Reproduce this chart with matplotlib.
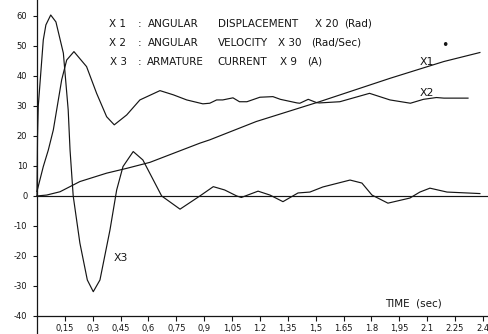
import matplotlib
matplotlib.use('Agg')
import matplotlib.pyplot as plt

# angular displacement x20 (rad)
x1T = [0.0, 0.052, 0.124, 0.231, 0.375, 0.483, 0.608, 0.734, 0.877, 0.93,
       1.18, 1.52, 1.90, 2.19, 2.384]
x1V = [0.0, 0.3, 1.4, 4.8, 7.6, 9.2, 11.2, 14.2, 17.6, 18.7,
       24.8, 31.4, 39.2, 44.8, 47.8]

# angular velocity x30 (rad/sec)
x2T = [0.0, 0.034, 0.061, 0.088, 0.133, 0.16, 0.199, 0.267, 0.321, 0.375,
       0.416, 0.483, 0.554, 0.662, 0.734, 0.806, 0.893, 0.93, 0.967, 1.0,
       1.055, 1.09, 1.13, 1.2, 1.27, 1.31, 1.40, 1.415, 1.46, 1.505,
       1.52, 1.63, 1.79, 1.90, 2.01, 2.08, 2.15, 2.19, 2.32]
x2V = [1.5, 9.8, 15.3, 22.0, 38.7, 45.3, 48.1, 43.1, 34.2, 26.4,
       23.7, 27.0, 32.0, 35.1, 33.7, 32.0, 30.7, 30.9, 32.0, 32.0,
       32.7, 31.4, 31.4, 32.9, 33.1, 32.2, 31.0, 30.9, 32.2, 31.1,
       31.0, 31.4, 34.2, 32.0, 30.9, 32.2, 32.8, 32.6, 32.6]

# armature current x9 (A)
x3T = [0.0, 0.003, 0.007, 0.034, 0.048, 0.074, 0.102, 0.142, 0.168, 0.178,
       0.195, 0.231, 0.271, 0.303, 0.339, 0.393, 0.429, 0.463, 0.518, 0.57,
       0.671, 0.77, 0.877, 0.949, 1.01, 1.075, 1.10, 1.19, 1.254, 1.324,
       1.405, 1.469, 1.539, 1.685, 1.749, 1.803, 1.889, 2.007, 2.061, 2.115,
       2.207, 2.314, 2.384]
x3V = [0.0, 20.0, 30.0, 52.0, 57.0, 60.3, 58.0, 47.6, 28.7, 15.3,
       0.0, -15.7, -28.0, -31.9, -28.0, -11.3, 2.0, 9.8, 14.8, 12.0,
       0.0, -4.4, 0.0, 3.1, 2.0, 0.0, -0.5, 1.6, 0.3, -1.9,
       1.0, 1.3, 3.0, 5.3, 4.3, 0.3, -2.4, -0.7, 1.3, 2.6,
       1.3, 1.0, 0.8]

xTicks = [0.15, 0.3, 0.45, 0.6, 0.75, 0.9, 1.05, 1.2, 1.35, 1.5, 1.65, 1.8,
          1.95, 2.1, 2.25, 2.4]
xTickLabels = ['0,15', '0,3', '0,45', '0,6', '0,75', '0,9', '1,05', '1.2',
               '1,35', '1,5', '1.65', '1.8', '1,95', '2.1', '2.25', '2.4']
yTicks = [-40, -30, -20, -10, 0, 10, 20, 30, 40, 50, 60]
yTickLabels = ['-40', '-30', '-20', '-10', '0', '10', '20', '30', '40', '50', '60']

legendLines = [
    ['X 1', ':', 'ANGULAR', 'DISPLACEMENT', 'X 20', '(Rad)'],
    ['X 2', ':', 'ANGULAR', 'VELOCITY', 'X 30', '(Rad/Sec)'],
    ['X 3', ':', 'ARMATURE', 'CURRENT', 'X 9', '(A)'],
]

W, H = 489, 334
fig = plt.figure(figsize=(W / 100, H / 100), dpi=100)
ax = fig.add_axes([0, 0, 1, 1])
xMax = 2.433
ax.set_xlim(-0.199, xMax)
ax.set_ylim(-46, 65.3)

ink = '#151515'
lineKw = dict(color=ink, lw=0.85)
ax.plot(x1T, x1V, **lineKw)
ax.plot(x2T, x2V, **lineKw)
ax.plot(x3T, x3V, **lineKw)
ax.hlines(0, 0, xMax, **lineKw)

for side in ['top', 'right']:
    ax.spines[side].set_visible(False)
ax.spines['left'].set_position(('data', 0))
ax.spines['bottom'].set_position(('data', -40))
ax.spines['bottom'].set_bounds(0, xMax)
for side in ['left', 'bottom']:
    ax.spines[side].set_linewidth(0.9)
    ax.spines[side].set_color(ink)

ax.set_xticks(xTicks, xTickLabels)
ax.set_yticks(yTicks, yTickLabels)
ax.tick_params(axis='x', direction='out', length=3.5, width=0.8, pad=2,
               labelsize=6, colors=ink)
ax.tick_params(axis='y', direction='out', length=3, width=0.8, pad=4,
               labelsize=6, colors=ink)


def px(x, y):
    return x / W, 1 - y / H


# word centre positions in pixels for the key lines
wordX = [[118, 140, 173, 258, 327, 358],
         [118, 140, 173, 243, 290, 336],
         [119, 140, 175, 242, 288, 315]]
rowY = [24, 42.5, 62]
for words, xs, y in zip(legendLines, wordX, rowY):
    for w, x in zip(words, xs):
        fx, fy = px(x, y)
        fig.text(fx, fy, w, fontsize=7.5, ha='center', va='center', color=ink)

for label, (x, y) in [('X1', (427, 62)), ('X2', (427, 93)), ('X3', (121, 258))]:
    fx, fy = px(x, y)
    fig.text(fx, fy, label, fontsize=7.8, ha='center', va='center', color=ink)

fx, fy = px(413, 304)
fig.text(fx, fy, 'TIME  (sec)', fontsize=7.5, ha='center', va='center', color=ink)

fx, fy = px(445, 46)
fig.text(fx, fy, '•', fontsize=9, ha='center', va='center', color=ink)

fig.savefig('out.png', dpi=100)
